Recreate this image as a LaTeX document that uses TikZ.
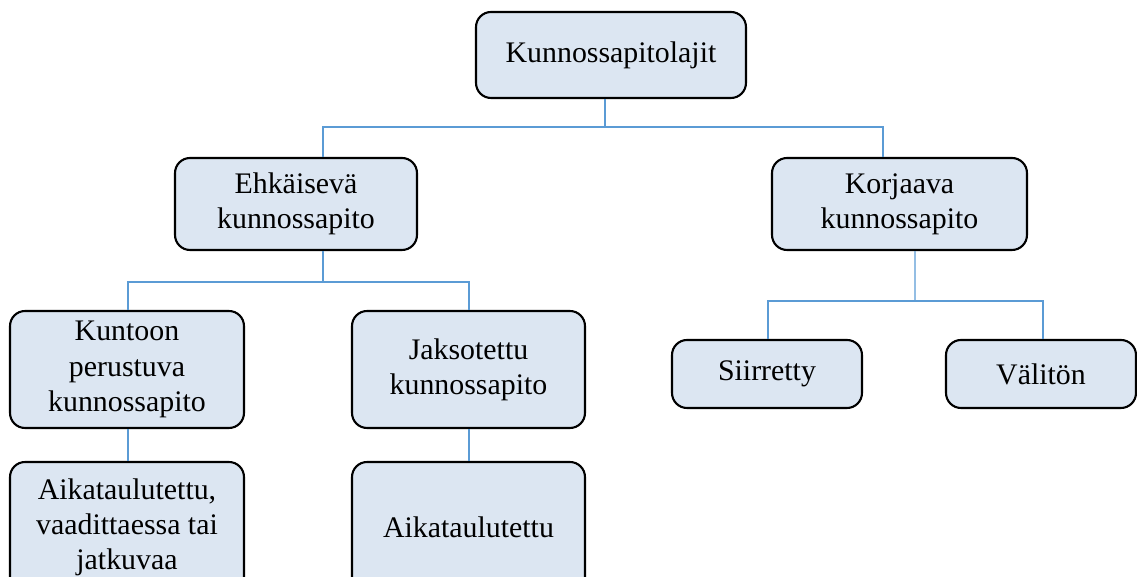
\documentclass[tikz,border=0pt]{standalone}
\usepackage{fontspec}
\setmainfont{Liberation Serif}
\usetikzlibrary{calc}
\definecolor{boxfill}{HTML}{DCE6F2}
\definecolor{linkblue}{HTML}{5B9BD5}

\begin{document}
\begin{tikzpicture}[x=0.02cm, y=-0.02cm,
  box/.style={draw=black, line width=1.2pt, fill=boxfill, rounded corners=0.3cm,
    align=center, inner sep=0pt, font=\fontsize{17}{20}\selectfont},
  link/.style={draw=linkblue, line width=0.8pt}]
  % Page frame
  \useasboundingbox (0,0) rectangle (1137,577);
  \clip (0,0) rectangle (1137,577);

  % Top level
  \node[box, minimum width=5.4cm, minimum height=1.72cm] (top) at (611,55) {Kunnossapitolajit};

  % Second level
  \node[box, minimum width=4.84cm, minimum height=1.84cm] (prev) at (296,204) {Ehkäisevä\\kunnossapito};
  \node[box, minimum width=5.1cm, minimum height=1.84cm] (corr) at (899.5,204) {Korjaava\\kunnossapito};

  % Third level
  \node[box, minimum width=4.68cm, minimum height=2.34cm] (cond) at (127,369.5) {Kuntoon\\perustuva\\kunnossapito};
  \node[box, minimum width=4.66cm, minimum height=2.34cm] (period) at (468.5,369.5) {Jaksotettu\\kunnossapito};
  \node[box, minimum width=3.8cm, minimum height=1.36cm] (moved) at (767,374) {Siirretty};
  \node[box, minimum width=3.8cm, minimum height=1.36cm] (immed) at (1041,374) {Välitön};

  % Fourth level
  \node[box, minimum width=4.68cm, minimum height=2.6cm] (sched1) at (127,527) {Aikataulutettu,\\vaadittaessa tai\\jatkuvaa};
  \node[box, minimum width=4.66cm, minimum height=2.6cm] (sched2) at (468.5,527) {Aikataulutettu};

  % Connectors
  \coordinate (j1) at (605,127);
  \coordinate (j2) at (323,282);
  \coordinate (j3) at (915,301);
  \draw[link] ($(top.south)+(-6,0)$) -- (j1);
  \draw[link] ($(prev.north)+(27,0)$) |- (j1) -| ($(corr.north)+(-16.5,0)$);
  \draw[link] ($(prev.south)+(27,0)$) -- (j2);
  \draw[link] ($(cond.north)+(1,0)$) |- (j2) -| ($(period.north)+(0.5,0)$);
  \draw[link] ($(corr.south)+(15.5,0)$) -- (j3);
  \draw[link] ($(moved.north)+(1,0)$) |- (j3) -| ($(immed.north)+(2,0)$);
  \draw[link] ($(cond.south)+(1,0)$) -- ($(sched1.north)+(1,0)$);
  \draw[link] ($(period.south)+(0.5,0)$) -- ($(sched2.north)+(0.5,0)$);
\end{tikzpicture}
\end{document}
